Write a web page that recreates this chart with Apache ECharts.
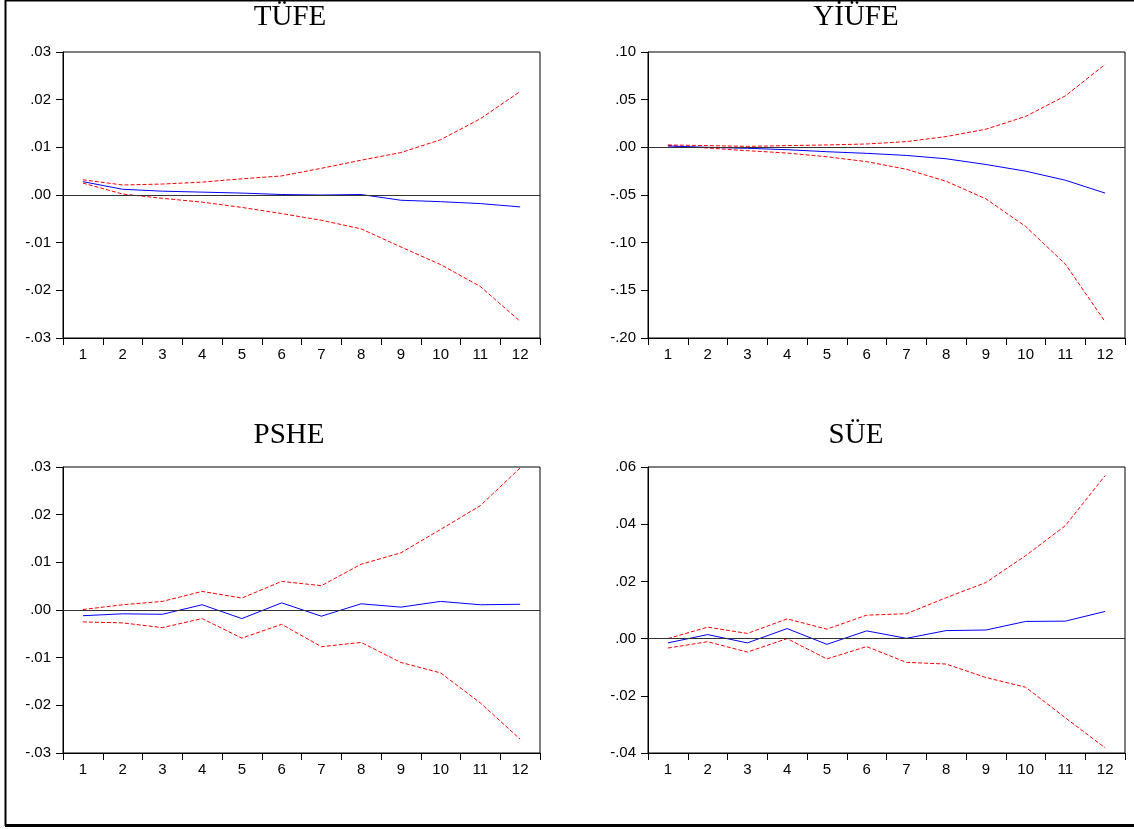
<!DOCTYPE html>
<html>
<head>
<meta charset="utf-8">
<script src="https://cdn.jsdelivr.net/npm/echarts@6/dist/echarts.min.js"></script>
<style>
html,body{margin:0;padding:0;background:#fff;}
#chart{width:1134px;height:829px;}
</style>
</head>
<body>
<div id="chart"></div>
<script>
// ---- data ----
const periods = ['1','2','3','4','5','6','7','8','9','10','11','12'];
const panelTitles = ['TÜFE', 'YİÜFE', 'PSHE', 'SÜE'];

const tufeResponse = [0.0028, 0.0012, 0.0008, 0.0006, 0.0004, 0.0001, 0.0000, 0.0001, -0.0011, -0.0014, -0.0018, -0.0025];
const tufeUpper    = [0.0032, 0.0021, 0.0023, 0.0027, 0.0034, 0.0040, 0.0056, 0.0073, 0.0089, 0.0116, 0.0160, 0.0217];
const tufeLower    = [0.0025, 0.0002, -0.0007, -0.0015, -0.0026, -0.0039, -0.0053, -0.0071, -0.0109, -0.0146, -0.0192, -0.0265];

const yiufeResponse = [0.0014, 0.0000, -0.0010, -0.0025, -0.0046, -0.0063, -0.0085, -0.0120, -0.0180, -0.0250, -0.0345, -0.0480];
const yiufeUpper    = [0.0025, 0.0018, 0.0010, 0.0018, 0.0025, 0.0035, 0.0060, 0.0113, 0.0190, 0.0324, 0.0540, 0.0870];
const yiufeLower    = [0.0018, -0.0007, -0.0035, -0.0060, -0.0099, -0.0150, -0.0230, -0.0356, -0.0540, -0.0830, -0.1225, -0.1830];

const psheResponse = [-0.0012, -0.0008, -0.0009, 0.0011, -0.0018, 0.0015, -0.0013, 0.0013, 0.0006, 0.0018, 0.0011, 0.0012];
const psheUpper    = [0.0001, 0.0011, 0.0018, 0.0039, 0.0025, 0.0060, 0.0051, 0.0096, 0.0120, 0.0169, 0.0219, 0.0298];
const psheLower    = [-0.0025, -0.0027, -0.0037, -0.0018, -0.0059, -0.0030, -0.0077, -0.0068, -0.0110, -0.0132, -0.0195, -0.0271];

const sueResponse = [-0.0015, 0.0014, -0.0015, 0.0035, -0.0020, 0.0027, 0.0001, 0.0028, 0.0030, 0.0060, 0.0061, 0.0095];
const sueUpper    = [0.0000, 0.0040, 0.0018, 0.0069, 0.0033, 0.0082, 0.0087, 0.0143, 0.0196, 0.0290, 0.0395, 0.0570];
const sueLower    = [-0.0033, -0.0011, -0.0047, 0.0000, -0.0071, -0.0028, -0.0083, -0.0089, -0.0136, -0.0170, -0.0277, -0.0382];

// y-axis ranges [min, max, interval]
const yRanges = [
  [-0.03, 0.03, 0.01],
  [-0.20, 0.10, 0.05],
  [-0.03, 0.03, 0.01],
  [-0.04, 0.06, 0.02]
];

const panelData = [
  [tufeResponse, tufeUpper, tufeLower],
  [yiufeResponse, yiufeUpper, yiufeLower],
  [psheResponse, psheUpper, psheLower],
  [sueResponse, sueUpper, sueLower]
];

// ---- layout ----
const gridPos = [
  {left: 63, top: 52, width: 477, height: 286},
  {left: 648, top: 52, width: 477, height: 286},
  {left: 63, top: 467, width: 477, height: 286},
  {left: 648, top: 467, width: 477, height: 286}
];
const titlePos = [[290, 17], [856, 17], [289, 435], [856, 435]];

function fmt(v) {
  let s = (Math.round(v * 100) / 100).toFixed(2);
  if (s === '-0.00') s = '0.00';
  return s.replace('0.', '.');
}

const grids = [], xAxes = [], yAxes = [], series = [];
for (let i = 0; i < 4; i++) {
  grids.push(Object.assign({show: true, borderColor: '#000', borderWidth: 1, backgroundColor: 'transparent'}, gridPos[i]));
  xAxes.push({
    type: 'category', gridIndex: i, data: periods, boundaryGap: true,
    axisLine: {show: true, onZero: false, lineStyle: {color: '#000', width: 1}},
    axisTick: {show: true, inside: false, length: 7, alignWithLabel: false, interval: 0, lineStyle: {color: '#000'}},
    axisLabel: {show: true, interval: 0, margin: 9, color: '#000', fontFamily: 'Liberation Sans', fontSize: 15},
    splitLine: {show: false}
  });
  yAxes.push({
    type: 'value', gridIndex: i, min: yRanges[i][0], max: yRanges[i][1], interval: yRanges[i][2],
    axisLine: {show: true, onZero: false, lineStyle: {color: '#000', width: 1}},
    axisTick: {show: true, inside: false, length: 7, lineStyle: {color: '#000'}},
    axisLabel: {show: true, margin: 12, color: '#000', fontFamily: 'Liberation Sans', fontSize: 15,
      padding: [0, 0, 8, 0], formatter: fmt},
    splitLine: {show: false}
  });
  const [resp, up, lo] = panelData[i];
  series.push({
    type: 'line', xAxisIndex: i, yAxisIndex: i, data: up, symbol: 'none', silent: true,
    lineStyle: {color: '#ff0000', width: 1, type: [4, 2]}, z: 3
  });
  series.push({
    type: 'line', xAxisIndex: i, yAxisIndex: i, data: lo, symbol: 'none', silent: true,
    lineStyle: {color: '#ff0000', width: 1, type: [4, 2]}, z: 3
  });
  series.push({
    type: 'line', xAxisIndex: i, yAxisIndex: i, data: resp, symbol: 'none', silent: true,
    lineStyle: {color: '#0000ff', width: 1}, z: 4,
    markLine: {
      silent: true, symbol: 'none', label: {show: false},
      lineStyle: {color: '#333', width: 1, type: 'solid'},
      data: [{yAxis: 0}]
    }
  });
}

const graphics = [];
// outer frame (left, top, bottom)
graphics.push({type: 'line', shape: {x1: 5.5, y1: 0, x2: 5.5, y2: 826}, style: {stroke: '#000', lineWidth: 2}, z: 10});
graphics.push({type: 'line', shape: {x1: 5, y1: 0.5, x2: 1134, y2: 0.5}, style: {stroke: '#000', lineWidth: 2}, z: 10});
graphics.push({type: 'line', shape: {x1: 5, y1: 825.5, x2: 1134, y2: 825.5}, style: {stroke: '#000', lineWidth: 3}, z: 10});
// titles
for (let i = 0; i < 4; i++) {
  graphics.push({
    type: 'text', x: titlePos[i][0], y: titlePos[i][1], z: 10,
    style: {text: panelTitles[i], fill: '#000', font: '29px "Liberation Serif", "Times New Roman", serif',
      align: 'center', verticalAlign: 'middle'}
  });
}

const chart = echarts.init(document.getElementById('chart'), null, {renderer: 'canvas'});
chart.setOption({
  animation: false,
  backgroundColor: '#fff',
  grid: grids, xAxis: xAxes, yAxis: yAxes, series: series,
  graphic: graphics
});
</script>
</body>
</html>
